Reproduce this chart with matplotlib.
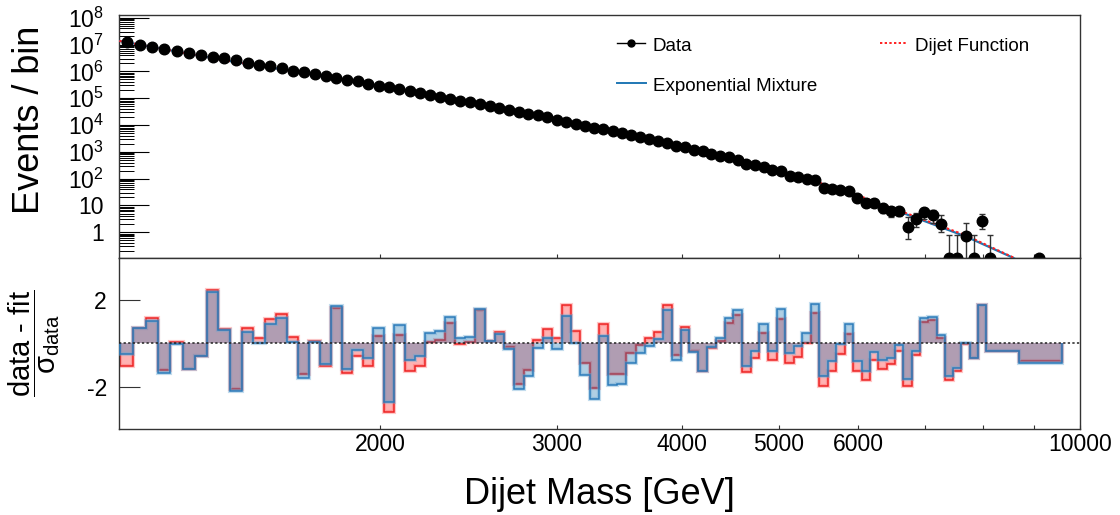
import numpy as np
import matplotlib
matplotlib.use("Agg")
import matplotlib.pyplot as plt
from matplotlib.ticker import FixedLocator, FixedFormatter, LogLocator, NullFormatter, NullLocator

plt.rcParams['font.family'] = ['Liberation Sans', 'DejaVu Sans']
plt.rcParams['mathtext.fontset'] = 'custom'
plt.rcParams['mathtext.rm'] = 'Liberation Sans'
plt.rcParams['mathtext.it'] = 'Liberation Sans:italic'
plt.rcParams['mathtext.bf'] = 'Liberation Sans:bold'
plt.rcParams['mathtext.sf'] = 'Liberation Sans'

# ---------------- data ----------------
bin_edges = [1100, 1133, 1166, 1200, 1234, 1269, 1305, 1341, 1378, 1416,
             1454, 1493, 1533, 1573, 1614, 1656, 1698, 1741, 1785, 1830,
             1875, 1921, 1968, 2016, 2065, 2114, 2164, 2215, 2267, 2320,
             2374, 2429, 2485, 2542, 2600, 2659, 2719, 2780, 2842, 2905,
             2969, 3034, 3100, 3167, 3235, 3305, 3376, 3448, 3521, 3596,
             3672, 3749, 3827, 3907, 3988, 4070, 4154, 4239, 4326, 4414,
             4504, 4595, 4688, 4782, 4878, 4975, 5074, 5175, 5277, 5381,
             5487, 5595, 5705, 5817, 5931, 6047, 6165, 6285, 6407, 6531,
             6658, 6787, 6918, 7052, 7188, 7326, 7467, 7610, 7756, 7904,
             8055, 8208, 8364, 8523, 8685, 8850, 9019, 9191]

ratio_edges = bin_edges[:91] + [8685, 9600]

data_events = [1.21e7, 9.89e6, 8.32e6, 6.81e6, 5.74e6, 4.98e6, 4.07e6, 3.53e6, 3.06e6, 2.58e6,
               2.05e6, 1.73e6, 1.54e6, 1.30e6, 1.06e6, 9.46e5, 7.98e5, 6.90e5, 5.82e5, 4.76e5,
               4.25e5, 3.48e5, 2.93e5, 2.61e5, 2.14e5, 1.91e5, 1.56e5, 1.32e5, 1.14e5, 9.59e4,
               8.09e4, 7.21e4, 5.90e4, 5.12e4, 4.31e4, 3.63e4, 3.05e4, 2.65e4, 2.30e4, 1.94e4,
               1.58e4, 1.33e4, 1.12e4, 9.46e3, 7.74e3, 7.11e3, 5.82e3, 4.90e3, 4.13e3, 3.48e3,
               2.93e3, 2.47e3, 2.14e3, 1.70e3, 1.48e3, 1.21e3, 1.05e3, 855, 721, 625,
               512, 362, 315, 281, 211, 193, 129, 112, 100, 91.8,
               46.2, 42.5, 36.8, 33.8, 19.6, 12.4, 12.8, 8.32, 6.24, 6.43,
               1.54, 3.0, 5.57, 4.44, 2.05, 0, 0, 0.71, 0, 2.72,
               0, None, None, None, None, None, 0]

# error-bar bounds of the sparse tail (bins 76 .. 91)
tail_first_bin = 76
tail_err_hi = [15.9, 16.4, 11.2, 8.7, 9.0, 3.83, 5.1, 8.0, 6.6, 4.3, 0.8, 0.8, 2.3, 0.8, 4.8, 0.78]
tail_err_lo = [8.9, 9.2, 5.4, 3.8, 3.9, 0.55, 1.54, 3.2, 2.3, 1.0, 0, 0, 0, 0, 1.37, 0]

fit_mass = [1097, 1397, 1852, 2347, 2937, 3634, 4459, 4927, 5434, 6013, 6693, 7692, 8564, 9300]
expmix_fit = [1.365e7, 2.60e6, 4.84e5, 9.66e4, 1.94e4, 3.51e3, 596, 216, 79.4, 21.4, 4.79, 0.69, 0.1135, 0.0178]
dijet_fit = [1.365e7, 2.60e6, 4.84e5, 9.66e4, 1.94e4, 3.51e3, 598, 218, 80.5, 22.9, 5.25, 0.76, 0.117, 0.016]

dijet_sig = [-1.02, 0.72, 1.18, -1.22, 0.05, -1.17, -0.58, 2.45, 0.65, -2.08,
             0.69, 0.25, 1.11, 1.34, 0.28, -1.43, 0.12, -1.02, 1.63, -1.37,
             -0.57, -1.02, 0.34, -3.15, 0.38, -1.28, -1.06, 0.06, 0.15, 0.92,
             -0.05, 0.08, 1.54, 0.12, 0.51, -0.15, -1.86, -1.22, 0.15, 0.66,
             0.25, 1.78, 0.58, -0.89, -2.05, 0.88, -1.40, -1.40, -0.43, -0.09,
             0.25, 0.51, 1.78, -0.55, 0.75, -0.34, -1.28, -0.23, 0.09, 0.95,
             1.29, -1.32, -0.68, 0.49, -0.77, 1.11, -0.88, -0.63, 0.00, 1.38,
             -1.98, -1.29, -0.51, 0.42, -1.26, -1.69, -0.78, -1.17, -0.97, -0.34,
             -1.97, -0.54, 0.98, 1.06, 0.25, -1.69, -1.25, -0.05, -0.69, 1.75,
             -0.35, -0.83]
expmix_sig = [-0.51, 0.72, 1.02, -1.38, -0.05, -1.20, -0.58, 2.38, 0.60, -2.20,
              0.51, 0.03, 0.88, 1.17, 0.06, -1.57, 0.05, -0.97, 1.74, -1.17,
              -0.32, -0.66, 0.72, -2.69, 0.85, -0.78, -0.57, 0.46, 0.55, 1.20,
              0.23, 0.28, 1.57, 0.12, 0.45, -0.28, -2.12, -1.51, -0.20, 0.25,
              -0.28, 1.26, 0.03, -1.46, -2.55, 0.34, -1.92, -1.89, -0.91, -0.46,
              -0.14, 0.18, 1.54, -0.77, 0.62, -0.38, -1.28, -0.17, 0.23, 1.15,
              1.52, -1.05, -0.34, 0.88, -0.37, 1.57, -0.43, -0.14, 0.49, 1.83,
              -1.48, -0.80, -0.05, 0.91, -0.82, -1.25, -0.38, -0.78, -0.65, -0.08,
              -1.66, -0.35, 1.18, 1.23, 0.40, -1.48, -1.14, 0.00, -0.68, 1.78,
              -0.35, -0.92]

xtick_values = [2000, 3000, 4000, 5000, 6000, 7000, 8000, 9000, 10000]
xtick_labels = ['2000', '3000', '4000', '5000', '6000', '', '', '', '10000']
ytick_values = [1, 10, 1e2, 1e3, 1e4, 1e5, 1e6, 1e7, 1e8]
ytick_labels = ['1', '10', r'$\mathregular{10^{2}}$', r'$\mathregular{10^{3}}$', r'$\mathregular{10^{4}}$',
                r'$\mathregular{10^{5}}$', r'$\mathregular{10^{6}}$', r'$\mathregular{10^{7}}$',
                r'$\mathregular{10^{8}}$']
ratio_ticks = [-2, 2]
ratio_labels = ['-2', '2']

# ---------------- layout ----------------
XMIN, XMAX = 1097, 10000
YMIN, YMAX = 0.11, 1.3e8
RMIN, RMAX = -3.94, 3.93
FRAME = '#333333'

edges = np.array(bin_edges, dtype=float)
centers = (0.5 * (edges[:-1] + edges[1:]))[:len(data_events)]
vals = np.array([np.nan if v is None else v for v in data_events], dtype=float)

fig = plt.figure(figsize=(11.2, 5.15), dpi=100)
ax1 = fig.add_axes([0.1065, 0.49903, 0.858, 0.47247])
ax2 = fig.add_axes([0.1065, 0.16699, 0.858, 0.33204])

# ---------------- top panel ----------------
ax1.set_xscale('log')
ax1.set_yscale('log')
ax1.set_xlim(XMIN, XMAX)
ax1.set_ylim(YMIN, YMAX)

ax1.plot(fit_mass, expmix_fit, color='#1f77b4', lw=1.6, zorder=3)
ax1.plot(fit_mass, dijet_fit, color='#ff2020', lw=1.5, ls=(0, (1.2, 1.2)), zorder=3)

# error bars of tail bins
i0 = tail_first_bin - 1
tc = centers[i0:i0 + len(tail_err_hi)]
tv = vals[i0:i0 + len(tail_err_hi)]
ty = np.where(tv > 0, tv, YMIN)
lo = np.maximum(np.array(tail_err_lo), 0.02)
hi = np.array(tail_err_hi)
ax1.errorbar(tc, ty, yerr=[ty - lo, hi - ty], fmt='none', ecolor='#333333',
             elinewidth=1.0, capsize=2.2, capthick=1.0, zorder=4)

pos = vals > 0
zero = vals == 0
ax1.plot(centers[pos], vals[pos], 'o', color='black', ms=7.6, zorder=5)
ax1.plot(centers[zero], np.full(zero.sum(), YMIN), 'o', color='black', ms=7.6, zorder=5)

ax1.xaxis.set_major_locator(FixedLocator(xtick_values))
ax1.xaxis.set_major_formatter(NullFormatter())
ax1.xaxis.set_minor_locator(NullLocator())
ax1.yaxis.set_major_locator(FixedLocator(ytick_values))
ax1.yaxis.set_major_formatter(FixedFormatter(ytick_labels))
ax1.yaxis.set_minor_locator(LogLocator(base=10, subs=np.arange(2, 10), numticks=100))
ax1.yaxis.set_minor_formatter(NullFormatter())
ax1.tick_params(axis='x', which='major', direction='in', length=3.2, width=0.8, color=FRAME)
ax1.tick_params(axis='y', which='major', direction='in', length=21.6, width=0.8, color='black',
                labelsize=16.5, pad=11)
ax1.tick_params(axis='y', which='minor', direction='in', length=10.8, width=0.7, color='black')
for s in ax1.spines.values():
    s.set_color(FRAME)
    s.set_linewidth(1.0)

# legend (manual, ROOT style)
ax1.plot([0.518, 0.547], [0.8816, 0.8816], transform=ax1.transAxes, color='black', lw=1.0, clip_on=False)
ax1.plot([0.5325], [0.8816], 'o', transform=ax1.transAxes, color='black', ms=5, clip_on=False)
ax1.text(0.5554, 0.8496, 'Data', transform=ax1.transAxes, fontsize=13.5, va='baseline', ha='left')
ax1.plot([0.518, 0.548], [0.7172, 0.7172], transform=ax1.transAxes, color='#1f77b4', lw=1.4, clip_on=False)
ax1.text(0.5554, 0.6876, 'Exponential Mixture', transform=ax1.transAxes, fontsize=13.5,
         va='baseline', ha='left')
ax1.plot([0.7913, 0.820], [0.8816, 0.8816], transform=ax1.transAxes, color='#ff2020', lw=1.4,
         ls=(0, (1.2, 1.2)), clip_on=False)
ax1.text(0.8278, 0.8496, 'Dijet Function', transform=ax1.transAxes, fontsize=13.5,
         va='baseline', ha='left')

# ---------------- ratio panel ----------------
ax2.set_xscale('log')
ax2.set_xlim(XMIN, XMAX)
ax2.set_ylim(RMIN, RMAX)

ax2.stairs(dijet_sig, ratio_edges, baseline=0, fill=True, color='#ff0000', alpha=0.3, lw=0, zorder=2)
ax2.stairs(dijet_sig, ratio_edges, baseline=0, color='#ff6060', lw=3.0, alpha=0.35, zorder=2.1)
ax2.stairs(dijet_sig, ratio_edges, baseline=0, color='#ee2222', lw=1.1, zorder=2.2)
ax2.stairs(expmix_sig, ratio_edges, baseline=0, fill=True, color='#1f77b4', alpha=0.35, lw=0, zorder=2.5)
ax2.stairs(expmix_sig, ratio_edges, baseline=0, color='#6aa8d4', lw=3.0, alpha=0.4, zorder=2.6)
ax2.stairs(expmix_sig, ratio_edges, baseline=0, color='#2b7bba', lw=1.1, zorder=2.7)
ax2.axhline(0, color='#222222', lw=1.1, ls=(0, (1.5, 1.5)), zorder=3)

ax2.xaxis.set_major_locator(FixedLocator(xtick_values))
ax2.xaxis.set_major_formatter(FixedFormatter(xtick_labels))
ax2.xaxis.set_minor_locator(NullLocator())
ax2.yaxis.set_major_locator(FixedLocator(ratio_ticks))
ax2.yaxis.set_major_formatter(FixedFormatter(ratio_labels))
ax2.yaxis.set_minor_locator(NullLocator())
ax2.tick_params(axis='x', which='major', direction='in', length=3.2, width=0.8, color=FRAME,
                labelsize=16.5, pad=3)
ax2.tick_params(axis='y', which='major', direction='in', length=15, width=0.8, color=FRAME,
                labelsize=16.5, pad=9)
for s in ax2.spines.values():
    s.set_color(FRAME)
    s.set_linewidth(1.0)

# ---------------- axis titles ----------------
fig.text(0.5354, 0.040, 'Dijet Mass [GeV]', ha='center', va='center', fontsize=26)
fig.text(0.026, 0.767, 'Events / bin', ha='center', va='center', rotation=90, fontsize=26)
fig.text(0.030, 0.334, r'$\dfrac{\mathrm{data\ \text{-}\ fit}}{\mathrm{\sigma}_{\mathrm{data}}}$',
         ha='center', va='center', rotation=90, fontsize=21)

fig.savefig('out.png', dpi=100)
